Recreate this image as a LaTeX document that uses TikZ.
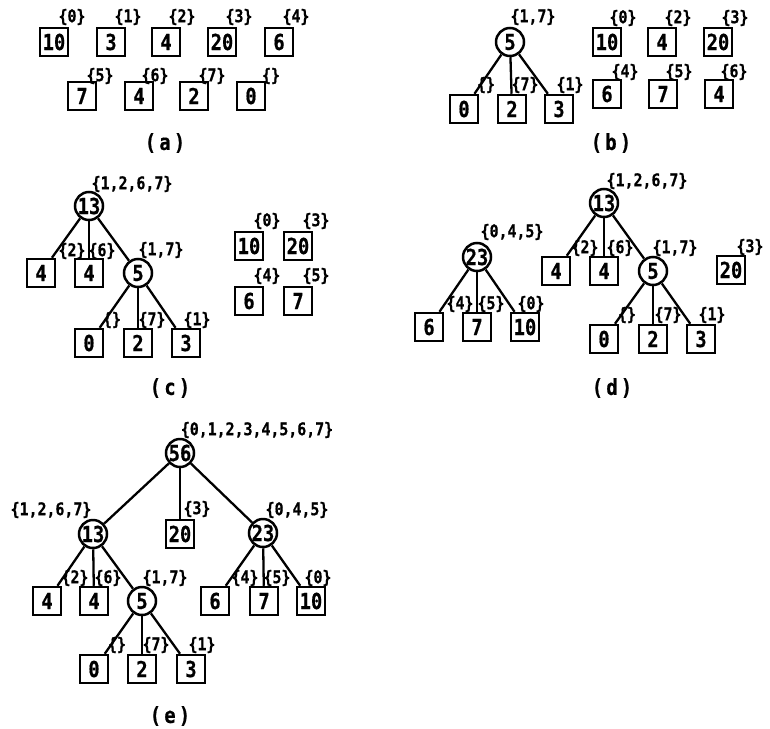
\documentclass[tikz,border=0pt]{standalone}
\usepackage{fontspec}
\newfontfamily\numfont[FakeStretch=0.85,FakeBold=0.6]{DejaVu Sans Mono}
\newfontfamily\labfont[FakeStretch=0.85,FakeBold=0.8]{DejaVu Sans Mono}
\newfontfamily\capfont[FakeStretch=0.85,FakeBold=0.6,LetterSpace=15]{DejaVu Sans Mono}
\tikzset{
  leaf/.style={draw, line width=2.5pt, minimum size=28pt, inner sep=0pt,
    font=\numfont\bfseries\fontsize{22}{22}\selectfont},
  sumnode/.style={leaf, circle},
  setlab/.style={inner sep=0pt, font=\labfont\bfseries\fontsize{17.5}{17.5}\selectfont},
  captext/.style={inner sep=0pt, font=\capfont\bfseries\fontsize{22}{22}\selectfont},
  link/.style={line width=2.3pt}
}
\begin{document}
\begin{tikzpicture}[x=1pt,y=-1pt]
\useasboundingbox (0,0) rectangle (770,728);

% ---------- (a) all leaves ----------
\node[leaf] (a0) at (54,42) {10};  \node[setlab] (la0) at (72,17) {\{0\}};
\node[leaf] (a1) at (111,42) {3};  \node[setlab] (la1) at (128,17) {\{1\}};
\node[leaf] (a2) at (166,42) {4};  \node[setlab] (la2) at (182,17) {\{2\}};
\node[leaf] (a3) at (222,42) {20}; \node[setlab] (la3) at (239,17) {\{3\}};
\node[leaf] (a4) at (279,42) {6};  \node[setlab] (la4) at (296,17) {\{4\}};
\node[leaf] (a5) at (82,96) {7};   \node[setlab] (la5) at (100,76) {\{5\}};
\node[leaf] (a6) at (139,96) {4};  \node[setlab] (la6) at (155,76) {\{6\}};
\node[leaf] (a7) at (194,96) {2};  \node[setlab] (la7) at (212,76) {\{7\}};
\node[leaf] (a8) at (251,96) {0};  \node[setlab] (la8) at (271,76) {\{\}};
\node[captext] (capa) at (165,143) {(a)};

% ---------- (b) ----------
\node[sumnode] (b5) at (510,42) {5};   \node[setlab] (lb5) at (533,17) {\{1,7\}};
\node[leaf] (b0) at (464,109) {0}; \node[setlab] (lb0) at (486,85) {\{\}};
\node[leaf] (b2) at (512,109) {2}; \node[setlab] (lb2) at (525,85) {\{7\}};
\node[leaf] (b3) at (559,109) {3}; \node[setlab] (lb3) at (570,85) {\{1\}};
\draw[link] (b5) -- (b0);
\draw[link] (b5) -- (b2);
\draw[link] (b5) -- (b3);
\node[leaf] (b10) at (607,42) {10}; \node[setlab] (lb10) at (623,18) {\{0\}};
\node[leaf] (b4a) at (662,42) {4};  \node[setlab] (lb4a) at (678,18) {\{2\}};
\node[leaf] (b20) at (718,42) {20}; \node[setlab] (lb20) at (735,18) {\{3\}};
\node[leaf] (b6) at (607,94) {6};   \node[setlab] (lb6) at (625,72) {\{4\}};
\node[leaf] (b7) at (663,94) {7};   \node[setlab] (lb7) at (679,72) {\{5\}};
\node[leaf] (b4b) at (719,94) {4};  \node[setlab] (lb4b) at (734,72) {\{6\}};
\node[captext] (capb) at (611,143) {(b)};

% ---------- (c) ----------
\node[sumnode] (c13) at (89,206) {13};  \node[setlab] (lc13) at (132,184) {\{1,2,6,7\}};
\node[leaf] (c4a) at (41,273) {4};  \node[setlab] (lc4a) at (72,251) {\{2\}};
\node[leaf] (c4b) at (89,273) {4};  \node[setlab] (lc4b) at (102,251) {\{6\}};
\node[sumnode] (c5) at (138,273) {5};   \node[setlab] (lc5) at (161,250) {\{1,7\}};
\node[leaf] (c0) at (89,343) {0};   \node[setlab] (lc0) at (112,320) {\{\}};
\node[leaf] (c2) at (138,343) {2};  \node[setlab] (lc2) at (152,320) {\{7\}};
\node[leaf] (c3) at (186,343) {3};  \node[setlab] (lc3) at (197,320) {\{1\}};
\draw[link] (c13) -- (c4a);
\draw[link] (c13) -- (c4b);
\draw[link] (c13) -- (c5);
\draw[link] (c5) -- (c0);
\draw[link] (c5) -- (c2);
\draw[link] (c5) -- (c3);
\node[leaf] (c10) at (249,246) {10}; \node[setlab] (lc10) at (267,221) {\{0\}};
\node[leaf] (c20) at (298,246) {20}; \node[setlab] (lc20) at (316,221) {\{3\}};
\node[leaf] (c6) at (249,301) {6};   \node[setlab] (lc6) at (267,276) {\{4\}};
\node[leaf] (c7) at (298,301) {7};   \node[setlab] (lc7) at (316,276) {\{5\}};
\node[captext] (capc) at (170,388) {(c)};

% ---------- (d) ----------
\node[sumnode] (d23) at (477,257) {23}; \node[setlab] (ld23) at (512,232) {\{0,4,5\}};
\node[leaf] (d6) at (429,327) {6};  \node[setlab] (ld6) at (460,304) {\{4\}};
\node[leaf] (d7) at (477,327) {7};  \node[setlab] (ld7) at (491,304) {\{5\}};
\node[leaf] (d10) at (525,327) {10};\node[setlab] (ld10) at (531,304) {\{0\}};
\draw[link] (d23) -- (d6);
\draw[link] (d23) -- (d7);
\draw[link] (d23) -- (d10);
\node[sumnode] (d13) at (604,203) {13}; \node[setlab] (ld13) at (647,181) {\{1,2,6,7\}};
\node[leaf] (d4a) at (556,271) {4}; \node[setlab] (ld4a) at (585,248) {\{2\}};
\node[leaf] (d4b) at (604,271) {4}; \node[setlab] (ld4b) at (620,248) {\{6\}};
\node[sumnode] (d5) at (653,271) {5};   \node[setlab] (ld5) at (675,248) {\{1,7\}};
\node[leaf] (d0) at (604,339) {0};  \node[setlab] (ld0) at (627,315) {\{\}};
\node[leaf] (d2) at (653,339) {2};  \node[setlab] (ld2) at (668,315) {\{7\}};
\node[leaf] (d3) at (701,339) {3};  \node[setlab] (ld3) at (712,315) {\{1\}};
\draw[link] (d13) -- (d4a);
\draw[link] (d13) -- (d4b);
\draw[link] (d13) -- (d5);
\draw[link] (d5) -- (d0);
\draw[link] (d5) -- (d2);
\draw[link] (d5) -- (d3);
\node[leaf] (d20) at (731,270) {20}; \node[setlab] (ld20) at (750,247) {\{3\}};
\node[captext] (capd) at (612,388) {(d)};

% ---------- (e) the complete tree ----------
\node[sumnode] (e56) at (180,453) {56}; \node[setlab] (le56) at (257,430) {\{0,1,2,3,4,5,6,7\}};
\node[sumnode] (e13) at (93,534) {13};  \node[setlab] (le13) at (51,510) {\{1,2,6,7\}};
\node[leaf] (e20) at (180,534) {20};\node[setlab] (le20) at (197,509) {\{3\}};
\node[sumnode] (e23) at (263,533) {23}; \node[setlab] (le23) at (297,510) {\{0,4,5\}};
\draw[link] (e56) -- (e13);
\draw[link] (e56) -- (e20);
\draw[link] (e56) -- (e23);
\node[leaf] (e4a) at (47,601) {4};  \node[setlab] (le4a) at (75,578) {\{2\}};
\node[leaf] (e4b) at (94,601) {4};  \node[setlab] (le4b) at (108,578) {\{6\}};
\node[sumnode] (e5) at (142,601) {5};   \node[setlab] (le5) at (165,578) {\{1,7\}};
\draw[link] (e13) -- (e4a);
\draw[link] (e13) -- (e4b);
\draw[link] (e13) -- (e5);
\node[leaf] (e6) at (215,601) {6};  \node[setlab] (le6) at (245,578) {\{4\}};
\node[leaf] (e7) at (264,601) {7};  \node[setlab] (le7) at (277,578) {\{5\}};
\node[leaf] (e10) at (311,601) {10};\node[setlab] (le10) at (318,578) {\{0\}};
\draw[link] (e23) -- (e6);
\draw[link] (e23) -- (e7);
\draw[link] (e23) -- (e10);
\node[leaf] (e0) at (94,669) {0};   \node[setlab] (le0) at (117,645) {\{\}};
\node[leaf] (e2) at (142,669) {2};  \node[setlab] (le2) at (156,645) {\{7\}};
\node[leaf] (e3) at (191,669) {3};  \node[setlab] (le3) at (202,645) {\{1\}};
\draw[link] (e5) -- (e0);
\draw[link] (e5) -- (e2);
\draw[link] (e5) -- (e3);
\node[captext] (cape) at (170,716) {(e)};
\end{tikzpicture}
\end{document}
